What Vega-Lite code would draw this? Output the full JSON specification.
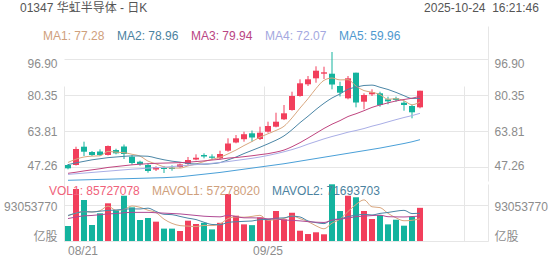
{
  "$schema": "https://vega.github.io/schema/vega-lite/v6.json",
  "width": 424,
  "height": 215,
  "autosize": {"type": "none"},
  "padding": {"left": 64, "right": 64, "top": 26, "bottom": 24},
  "background": "white",
  "title": {
    "text": "01347 华虹半导体 - 日K\u00a0\u00a0\u00a0\u00a0\u00a0\u00a0\u00a0\u00a0\u00a0\u00a0\u00a0\u00a0\u00a0\u00a0\u00a0\u00a0\u00a0\u00a0\u00a0\u00a0\u00a0\u00a0\u00a0\u00a0\u00a0\u00a0\u00a0\u00a0\u00a0\u00a0\u00a0\u00a0\u00a0\u00a0\u00a0\u00a0\u00a0\u00a0\u00a0\u00a0\u00a0\u00a0\u00a0\u00a0\u00a0\u00a0\u00a0\u00a0\u00a0\u00a0\u00a0\u00a0\u00a0\u00a0\u00a0\u00a0\u00a0\u00a0\u00a0\u00a0\u00a0\u00a0\u00a0\u00a0\u00a0\u00a0\u00a0\u00a0\u00a0\u00a0\u00a0\u00a0\u00a0\u00a0\u00a0\u00a0\u00a0\u00a0\u00a0\u00a0\u00a0\u00a0\u00a02025-10-24\u00a0\u00a016:21:46",
    "anchor": "start",
    "frame": "group",
    "dx": -44,
    "offset": 2,
    "baseline": "alphabetic",
    "fontSize": 12,
    "fontWeight": "normal",
    "color": "#555555",
    "font": "Liberation Sans, Noto Sans CJK SC, sans-serif"
  },
  "datasets": {
    "k": [
      {"d":"08/21","o":48.32,"h":48.78,"l":46.34,"c":46.80,"v":38800000,"ma1":49.5,"ma2":48.5,"ma3":44.5,"ma4":44.0,"ma5":41.3,"mv1":65000000,"mv2":66000000,"mv3":58000000},
      {"d":"08/22","o":48.32,"h":56.73,"l":48.09,"c":55.67,"v":134400000,"ma1":51.0,"ma2":49.3,"ma3":45.0,"ma4":44.3,"ma5":41.4,"mv1":72000000,"mv2":72000000,"mv3":62000000},
      {"d":"08/25","o":56.73,"h":59.03,"l":52.45,"c":54.43,"v":106000000,"ma1":52.0,"ma2":50.0,"ma3":45.6,"ma4":44.6,"ma5":41.5,"mv1":76000000,"mv2":76000000,"mv3":65000000},
      {"d":"08/26","o":54.29,"h":54.75,"l":52.45,"c":52.91,"v":41400000,"ma1":52.4,"ma2":50.7,"ma3":46.1,"ma4":44.9,"ma5":41.6,"mv1":75000000,"mv2":75000000,"mv3":66000000},
      {"d":"08/27","o":54.52,"h":55.53,"l":52.45,"c":52.91,"v":71600000,"ma1":52.54,"ma2":51.2,"ma3":46.6,"ma4":45.2,"ma5":41.7,"mv1":78400000,"mv2":77000000,"mv3":68000000},
      {"d":"08/28","o":52.91,"h":57.28,"l":52.68,"c":57.05,"v":97400000,"ma1":54.59,"ma2":51.7,"ma3":47.2,"ma4":45.5,"ma5":41.8,"mv1":90200000,"mv2":79000000,"mv3":70000000},
      {"d":"08/29","o":55.21,"h":55.81,"l":53.24,"c":53.69,"v":80000000,"ma1":54.20,"ma2":52.0,"ma3":47.6,"ma4":45.8,"ma5":41.9,"mv1":79300000,"mv2":80000000,"mv3":71000000},
      {"d":"09/01","o":56.82,"h":57.74,"l":51.07,"c":53.37,"v":117000000,"ma1":53.99,"ma2":52.3,"ma3":48.0,"ma4":46.1,"ma5":42.0,"mv1":81500000,"mv2":82000000,"mv3":73000000},
      {"d":"09/02","o":52.13,"h":52.91,"l":48.45,"c":49.23,"v":87000000,"ma1":53.25,"ma2":52.5,"ma3":48.4,"ma4":46.4,"ma5":42.1,"mv1":90600000,"mv2":83000000,"mv3":74000000},
      {"d":"09/03","o":49.83,"h":50.29,"l":47.99,"c":48.64,"v":54300000,"ma1":52.40,"ma2":52.47,"ma3":48.7,"ma4":46.6,"ma5":42.2,"mv1":87100000,"mv2":82800000,"mv3":74000000},
      {"d":"09/04","o":48.32,"h":49.10,"l":44.78,"c":45.56,"v":59400000,"ma1":50.10,"ma2":52.35,"ma3":48.9,"ma4":46.9,"ma5":42.3,"mv1":79500000,"mv2":84900000,"mv3":74000000},
      {"d":"09/05","o":46.25,"h":47.72,"l":45.56,"c":47.40,"v":50000000,"ma1":48.84,"ma2":51.52,"ma3":49.1,"ma4":47.1,"ma5":42.4,"mv1":73500000,"mv2":76400000,"mv3":73000000},
      {"d":"09/08","o":46.94,"h":47.86,"l":44.64,"c":46.48,"v":32000000,"ma1":47.46,"ma2":50.72,"ma3":49.2,"ma4":47.3,"ma5":42.5,"mv1":56500000,"mv2":69000000,"mv3":72000000},
      {"d":"09/09","o":47.08,"h":48.18,"l":45.70,"c":46.48,"v":32000000,"ma1":46.91,"ma2":50.08,"ma3":49.3,"ma4":47.6,"ma5":42.7,"mv1":45500000,"mv2":68100000,"mv3":71000000},
      {"d":"09/10","o":47.40,"h":49.00,"l":47.00,"c":48.60,"v":25800000,"ma1":46.90,"ma2":49.65,"ma3":49.4,"ma4":47.9,"ma5":42.9,"mv1":39800000,"mv2":63500000,"mv3":70000000},
      {"d":"09/11","o":48.78,"h":52.00,"l":48.09,"c":50.61,"v":52500000,"ma1":47.91,"ma2":49.01,"ma3":49.6,"ma4":48.2,"ma5":43.3,"mv1":38500000,"mv2":59000000,"mv3":68000000},
      {"d":"09/12","o":50.84,"h":53.23,"l":50.48,"c":51.66,"v":44000000,"ma1":48.77,"ma2":48.80,"ma3":49.9,"ma4":48.5,"ma5":43.7,"mv1":37300000,"mv2":55400000,"mv3":66000000},
      {"d":"09/15","o":52.91,"h":53.69,"l":51.39,"c":52.22,"v":47000000,"ma1":49.91,"ma2":48.69,"ma3":50.2,"ma4":48.8,"ma5":44.1,"mv1":40300000,"mv2":48400000,"mv3":64000000},
      {"d":"09/16","o":52.22,"h":53.23,"l":50.61,"c":51.63,"v":30000000,"ma1":50.94,"ma2":48.93,"ma3":50.6,"ma4":49.1,"ma5":44.5,"mv1":39900000,"mv2":42700000,"mv3":63000000},
      {"d":"09/17","o":51.39,"h":54.89,"l":50.93,"c":53.37,"v":47000000,"ma1":51.90,"ma2":49.40,"ma3":50.94,"ma4":49.5,"ma5":44.9,"mv1":44100000,"mv2":42000000,"mv3":62400000},
      {"d":"09/18","o":54.89,"h":60.59,"l":54.43,"c":58.20,"v":121500000,"ma1":53.42,"ma2":50.67,"ma3":51.51,"ma4":49.9,"ma5":45.4,"mv1":57900000,"mv2":48200000,"mv3":66500000},
      {"d":"09/19","o":58.66,"h":62.10,"l":58.29,"c":60.59,"v":65400000,"ma1":55.20,"ma2":51.98,"ma3":51.75,"ma4":50.4,"ma5":45.9,"mv1":62200000,"mv2":49700000,"mv3":63100000},
      {"d":"09/22","o":60.17,"h":63.62,"l":59.03,"c":62.47,"v":43000000,"ma1":57.25,"ma2":53.58,"ma3":52.15,"ma4":50.9,"ma5":46.4,"mv1":61400000,"mv2":50800000,"mv3":59900000},
      {"d":"09/23","o":62.89,"h":64.17,"l":59.03,"c":60.96,"v":41000000,"ma1":59.12,"ma2":55.03,"ma3":52.56,"ma4":51.4,"ma5":46.9,"mv1":63600000,"mv2":51700000,"mv3":59900000},
      {"d":"09/24","o":60.27,"h":65.92,"l":59.81,"c":63.16,"v":61000000,"ma1":61.08,"ma2":56.49,"ma3":53.07,"ma4":52.0,"ma5":47.4,"mv1":66400000,"mv2":55200000,"mv3":59400000},
      {"d":"09/25","o":63.62,"h":68.22,"l":63.16,"c":66.24,"v":56000000,"ma1":62.68,"ma2":58.05,"ma3":53.53,"ma4":52.7,"ma5":47.9,"mv1":53300000,"mv2":55600000,"mv3":57300000},
      {"d":"09/26","o":65.92,"h":72.35,"l":65.64,"c":68.22,"v":77500000,"ma1":64.21,"ma2":59.71,"ma3":54.25,"ma4":53.5,"ma5":48.4,"mv1":55700000,"mv2":58900000,"mv3":57200000},
      {"d":"09/29","o":69.32,"h":75.89,"l":68.98,"c":72.08,"v":56000000,"ma1":66.13,"ma2":61.69,"ma3":55.19,"ma4":54.4,"ma5":48.9,"mv1":58300000,"mv2":59800000,"mv3":54100000},
      {"d":"09/30","o":73.59,"h":82.00,"l":73.27,"c":80.03,"v":73000000,"ma1":69.95,"ma2":64.53,"ma3":56.73,"ma4":55.4,"ma5":49.5,"mv1":64700000,"mv2":64100000,"mv3":53400000},
      {"d":"10/02","o":80.03,"h":87.70,"l":79.71,"c":85.87,"v":26600000,"ma1":74.49,"ma2":67.78,"ma3":58.59,"ma4":56.55,"ma5":50.1,"mv1":57800000,"mv2":62100000,"mv3":52000000},
      {"d":"10/03","o":85.41,"h":89.22,"l":84.62,"c":87.70,"v":18000000,"ma1":78.78,"ma2":70.73,"ma3":60.70,"ma4":57.91,"ma5":50.7,"mv1":50200000,"mv2":51800000,"mv3":50000000},
      {"d":"10/06","o":88.16,"h":93.68,"l":86.14,"c":91.66,"v":22500000,"ma1":83.47,"ma2":73.84,"ma3":62.91,"ma4":59.11,"ma5":51.3,"mv1":39200000,"mv2":47500000,"mv3":48600000},
      {"d":"10/08","o":90.28,"h":93.49,"l":87.84,"c":90.92,"v":17300000,"ma1":87.24,"ma2":76.68,"ma3":65.13,"ma4":60.33,"ma5":51.9,"mv1":31500000,"mv2":44900000,"mv3":47900000},
      {"d":"10/09","o":90.28,"h":100.25,"l":83.11,"c":85.31,"v":146500000,"ma1":88.29,"ma2":79.12,"ma3":67.08,"ma4":61.41,"ma5":52.5,"mv1":46200000,"mv2":55400000,"mv3":53600000},
      {"d":"10/10","o":84.62,"h":86.60,"l":79.80,"c":81.55,"v":77500000,"ma1":87.43,"ma2":80.96,"ma3":68.72,"ma4":62.37,"ma5":53.1,"mv1":56400000,"mv2":57100000,"mv3":56200000},
      {"d":"10/13","o":78.97,"h":89.22,"l":78.51,"c":88.16,"v":117000000,"ma1":87.52,"ma2":83.15,"ma3":70.60,"ma4":63.40,"ma5":53.7,"mv1":76200000,"mv2":63200000,"mv3":59400000},
      {"d":"10/14","o":90.74,"h":90.74,"l":74.83,"c":77.04,"v":113000000,"ma1":84.60,"ma2":84.03,"ma3":71.87,"ma4":64.18,"ma5":54.3,"mv1":94300000,"mv2":66700000,"mv3":62800000},
      {"d":"10/15","o":77.41,"h":81.27,"l":73.92,"c":80.49,"v":77500000,"ma1":82.51,"ma2":84.87,"ma3":73.28,"ma4":65.08,"ma5":54.9,"mv1":106300000,"mv2":68900000,"mv3":64400000},
      {"d":"10/16","o":80.81,"h":83.11,"l":80.03,"c":81.73,"v":56900000,"ma1":81.79,"ma2":85.04,"ma3":74.79,"ma4":66.17,"ma5":55.5,"mv1":88400000,"mv2":67300000,"mv3":65700000},
      {"d":"10/17","o":81.27,"h":82.00,"l":75.11,"c":75.89,"v":67000000,"ma1":80.66,"ma2":84.05,"ma3":75.91,"ma4":67.08,"ma5":56.1,"mv1":86300000,"mv2":71300000,"mv3":66700000},
      {"d":"10/20","o":78.51,"h":79.71,"l":76.21,"c":77.59,"v":43000000,"ma1":78.55,"ma2":83.03,"ma3":76.88,"ma4":68.14,"ma5":56.8,"mv1":71500000,"mv2":73800000,"mv3":62800000},
      {"d":"10/21","o":78.97,"h":79.71,"l":77.41,"c":78.19,"v":55000000,"ma1":78.78,"ma2":81.69,"ma3":77.76,"ma4":69.17,"ma5":57.5,"mv1":59900000,"mv2":77100000,"mv3":62300000},
      {"d":"10/22","o":76.95,"h":77.87,"l":73.27,"c":75.89,"v":39600000,"ma1":77.86,"ma2":80.18,"ma3":78.43,"ma4":70.15,"ma5":58.2,"mv1":52300000,"mv2":79300000,"mv3":62100000},
      {"d":"10/23","o":75.43,"h":75.89,"l":69.78,"c":72.54,"v":62800000,"ma1":76.02,"ma2":78.91,"ma3":79.01,"ma4":71.02,"ma5":59.0,"mv1":53500000,"mv2":70900000,"mv3":63200000},
      {"d":"10/24","o":74.83,"h":82.46,"l":74.38,"c":82.46,"v":85727078,"ma1":77.28,"ma2":78.96,"ma3":79.94,"ma4":72.07,"ma5":59.96,"mv1":57278020,"mv2":71693703,"mv3":64400000}
    ]
  },
  "data": {"name": "k"},
  "encoding": {
    "x": {
      "field": "d",
      "type": "ordinal",
      "title": null,
      "scale": {
        "domain": ["08/21","08/22","08/25","08/26","08/27","08/28","08/29","09/01","09/02","09/03","09/04","09/05","09/08","09/09","09/10","09/11","09/12","09/15","09/16","09/17","09/18","09/19","09/22","09/23","09/24","09/25","09/26","09/29","09/30","10/02","10/03","10/06","10/08","10/09","10/10","10/13","10/14","10/15","10/16","10/17","10/20","10/21","10/22","10/23","10/24","10/27","10/28","10/30","10/31","11/03","11/04","11/05","11/06"],
        "paddingInner": 0,
        "paddingOuter": 0
      },
      "axis": {
        "values": ["08/21","09/25","11/04"],
        "labelExpr": "datum.value == '11/04' ? '' : datum.value",
        "bandPosition": 0,
        "grid": true,
        "gridColor": "#e6e6e6",
        "ticks": false,
        "domain": true,
        "domainColor": "#e6e6e6",
        "labelAngle": 0,
        "labelPadding": 4,
        "labelOverlap": false,
        "labelAlign": {"condition": {"test": "datum.value == '08/21'", "value": "left"}, "value": "center"}
      }
    }
  },
  "layer": [
    {
      "mark": {"type": "point", "opacity": 0},
      "encoding": {
        "y": {"field": "c", "type": "quantitative", "scale": {"domain": [40.97, 112.2], "range": [155, 0], "zero": false, "nice": false},
          "axis": {"orient": "left", "values": [47.26, 63.81, 80.35, 96.9], "format": ".2f", "title": null, "grid": true, "gridColor": "#e6e6e6", "domain": false, "ticks": false, "labelPadding": 7,
            "labelOffset": {"condition": [{"test": "datum.value > 90", "value": 4}, {"test": "datum.value < 50", "value": -2}], "value": 0}}}
      }
    },
    {
      "mark": {"type": "point", "opacity": 0},
      "encoding": {
        "y": {"field": "c", "type": "quantitative", "scale": {"domain": [40.97, 112.2], "range": [155, 0], "zero": false, "nice": false},
          "axis": {"orient": "right", "values": [47.26, 63.81, 80.35, 96.9], "format": ".2f", "title": null, "grid": false, "domain": true, "domainColor": "#e6e6e6", "ticks": false, "labelPadding": 6,
            "labelOffset": {"condition": [{"test": "datum.value > 90", "value": 4}, {"test": "datum.value < 50", "value": -2}], "value": 0}}}
      }
    },
    {
      "mark": {"type": "point", "opacity": 0},
      "encoding": {
        "y": {"field": "v", "type": "quantitative", "scale": {"domain": [0, 147300000], "range": [215, 158], "nice": false},
          "axis": {"orient": "left", "values": [0, 93053770], "labelExpr": "datum.value == 0 ? '亿股' : '93053770'", "title": null, "grid": true, "gridColor": "#e6e6e6", "domain": false, "ticks": false, "labelPadding": 7,
            "labelOffset": {"condition": {"test": "datum.value == 0", "value": -5}, "value": 2}}}
      }
    },
    {
      "mark": {"type": "point", "opacity": 0},
      "encoding": {
        "y": {"field": "v", "type": "quantitative", "scale": {"domain": [0, 147300000], "range": [215, 158], "nice": false},
          "axis": {"orient": "right", "values": [0, 93053770], "labelExpr": "datum.value == 0 ? '亿股' : '93053770'", "title": null, "grid": false, "domain": true, "domainColor": "#e6e6e6", "ticks": false, "labelPadding": 6,
            "labelOffset": {"condition": {"test": "datum.value == 0", "value": -5}, "value": 2}}}
      }
    },
    {
      "mark": {"type": "rule", "strokeWidth": 1},
      "encoding": {
        "y": {"field": "l", "type": "quantitative", "scale": {"domain": [40.97, 112.2], "range": [155, 0], "zero": false, "nice": false}, "axis": null},
        "y2": {"field": "h"},
        "color": {"condition": {"test": "datum.c >= datum.o", "value": "#f23f5c"}, "value": "#14b39e"}
      }
    },
    {
      "mark": {"type": "bar", "width": 6},
      "encoding": {
        "y": {"field": "o", "type": "quantitative", "scale": {"domain": [40.97, 112.2], "range": [155, 0], "zero": false, "nice": false}, "axis": null},
        "y2": {"field": "c"},
        "color": {"condition": {"test": "datum.c >= datum.o", "value": "#f23f5c"}, "value": "#14b39e"}
      }
    },
    {
      "transform": [{"fold": ["ma1","ma2","ma3","ma4","ma5"], "as": ["s","val"]}],
      "mark": {"type": "line", "strokeWidth": 1, "interpolate": "monotone"},
      "encoding": {
        "y": {"field": "val", "type": "quantitative", "scale": {"domain": [40.97, 112.2], "range": [155, 0], "zero": false, "nice": false}, "axis": null},
        "color": {
          "field": "s", "type": "nominal",
          "scale": {"domain": ["ma1","ma2","ma3","ma4","ma5"], "range": ["#d9a77f","#4b86a6","#c0457f","#a9aee6","#4aa0d8"]},
          "legend": {
            "orient": "none", "legendX": -33, "legendY": 4, "direction": "horizontal", "columns": 5, "title": null,
            "symbolType": "circle", "symbolSize": 1, "symbolOpacity": 0, "symbolStrokeWidth": 0, "labelOffset": 0, "columnPadding": -4, "padding": 0,
            "labelFontSize": 12,
            "labelExpr": "datum.value == 'ma1' ? 'MA1: 77.28' : datum.value == 'ma2' ? 'MA2: 78.96' : datum.value == 'ma3' ? 'MA3: 79.94' : datum.value == 'ma4' ? 'MA4: 72.07' : 'MA5: 59.96'",
            "labelColor": {"expr": "datum.value == 'ma1' ? '#cfa07c' : datum.value == 'ma2' ? '#4b82a0' : datum.value == 'ma3' ? '#b94582' : datum.value == 'ma4' ? '#a4a8e0' : '#4f99cf'"}
          }
        }
      }
    },
    {
      "mark": {"type": "bar", "width": 6},
      "encoding": {
        "y": {"field": "v", "type": "quantitative", "scale": {"domain": [0, 147300000], "range": [215, 158], "nice": false}, "axis": null},
        "color": {"condition": {"test": "datum.c >= datum.o", "value": "#f23f5c"}, "value": "#14b39e"}
      }
    },
    {
      "transform": [{"fold": ["mv1","mv2","mv3"], "as": ["s","val"]}],
      "mark": {"type": "line", "strokeWidth": 1, "interpolate": "monotone"},
      "encoding": {
        "y": {"field": "val", "type": "quantitative", "scale": {"domain": [0, 147300000], "range": [215, 158], "nice": false}, "axis": null},
        "color": {
          "field": "s", "type": "nominal",
          "scale": {"domain": ["vol","mv1","mv2","mv3"], "range": ["#f2607a","#d9a77f","#4b86a6","#b04a94"]},
          "legend": {
            "orient": "none", "legendX": -27, "legendY": 159, "direction": "horizontal", "columns": 3, "title": null,
            "values": ["vol","mv1","mv2"],
            "symbolType": "circle", "symbolSize": 1, "symbolOpacity": 0, "symbolStrokeWidth": 0, "labelOffset": 0, "columnPadding": -3, "padding": 0,
            "labelFontSize": 12,
            "labelExpr": "datum.value == 'vol' ? 'VOL1: 85727078' : datum.value == 'mv1' ? 'MAVOL1: 57278020' : 'MAVOL2: 71693703'",
            "labelColor": {"expr": "datum.value == 'vol' ? '#f0627a' : datum.value == 'mv1' ? '#cfa07c' : '#4b82a0'"}
          }
        }
      }
    }
  ],
  "resolve": {
    "scale": {"y": "independent", "color": "independent"},
    "axis": {"y": "independent"},
    "legend": {"color": "independent"}
  },
  "config": {
    "font": "Liberation Sans, Noto Sans CJK SC, sans-serif",
    "view": {"stroke": null},
    "axis": {"labelColor": "#8c8c8c", "labelFontSize": 12, "labelFont": "Liberation Sans, Noto Sans CJK SC, sans-serif"},
    "legend": {"labelFont": "Liberation Sans, Noto Sans CJK SC, sans-serif"}
  }
}
